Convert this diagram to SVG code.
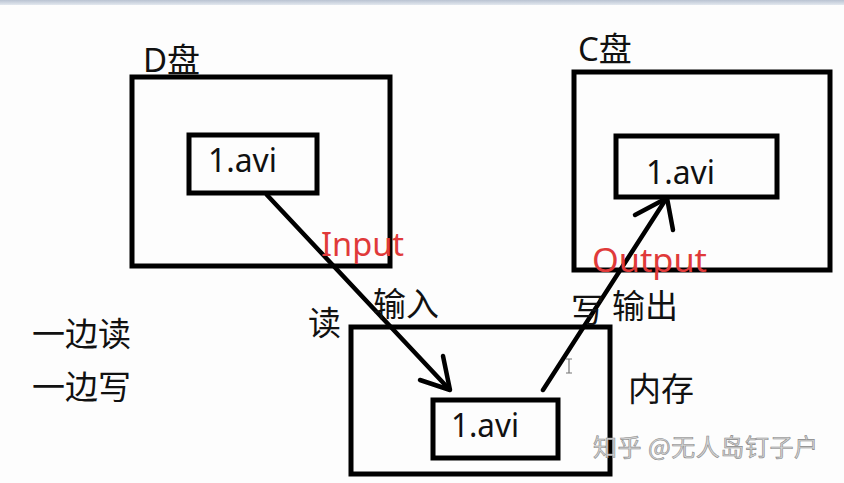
<svg xmlns="http://www.w3.org/2000/svg" width="844" height="483" viewBox="0 0 844 483">
<defs>
<linearGradient id="topbar" x1="0" y1="0" x2="0" y2="1">
<stop offset="0" stop-color="#b9c3d2"/>
<stop offset="1" stop-color="#e3e8ef"/>
</linearGradient>
</defs>
<style>
.box{fill:none;stroke:#000;stroke-width:5}
.conn{fill:none;stroke:#000;stroke-width:4.5;stroke-linecap:round;stroke-linejoin:round}
.lbl{font-family:"Noto Sans","Liberation Sans","Noto Sans CJK SC",sans-serif;font-size:33px;fill:#111}
.cjk{font-family:"Noto Sans CJK SC","Noto Sans",sans-serif;font-size:33px;fill:#111}
.red{font-family:"Noto Sans","Liberation Sans",sans-serif;font-size:32px;fill:#e03a3a}
.wm{font-family:"Noto Sans CJK SC","Noto Sans",sans-serif;font-size:24px;fill:#d4d4d4;stroke:#8a8a8a;stroke-width:0.6}
</style>
<rect x="0" y="0" width="844" height="483" fill="#fdfdfd"/>
<rect x="0" y="0" width="844" height="5" fill="url(#topbar)"/>

<g id="disk-d">
<rect class="box" x="132" y="77" width="258" height="189"/>
<text class="cjk" x="143" y="72"><tspan font-family="Noto Sans, sans-serif">D</tspan>盘</text>
</g>
<g id="file-d">
<rect class="box" x="189" y="135" width="128" height="58"/>
<text class="lbl" x="208" y="172" textLength="69" lengthAdjust="spacingAndGlyphs">1.avi</text>
</g>

<g id="disk-c">
<rect class="box" x="574" y="72" width="256" height="198"/>
<text class="cjk" x="578" y="61"><tspan font-family="Noto Sans, sans-serif">C</tspan>盘</text>
</g>
<g id="file-c">
<rect class="box" x="616" y="136" width="161" height="61"/>
<text class="lbl" x="646" y="184" textLength="69" lengthAdjust="spacingAndGlyphs">1.avi</text>
</g>

<g id="memory">
<rect class="box" x="351" y="327" width="259" height="147"/>
<text class="cjk" x="628" y="401">内存</text>
</g>
<g id="file-mem">
<rect class="box" x="433" y="400" width="125" height="58"/>
<text class="lbl" x="451" y="437" textLength="68" lengthAdjust="spacingAndGlyphs">1.avi</text>
</g>

<g id="connectors">
<path class="conn" d="M267 195 L449 389"/>
<path class="conn" d="M443 356 L450 390 L420 380"/>
<path class="conn" d="M543 390 L666 199"/>
<path class="conn" d="M635 215 L667 198 L673 230"/>
</g>

<g id="labels">
<text class="red" x="321" y="256" textLength="83" lengthAdjust="spacingAndGlyphs">Input</text>
<text class="red" x="592" y="272" textLength="115" lengthAdjust="spacingAndGlyphs">Output</text>
<text class="cjk" x="373" y="316">输入</text>
<text class="cjk" x="308" y="335">读</text>
<text class="cjk" x="571" y="322">写</text>
<text class="cjk" x="612" y="318">输出</text>
<text class="cjk" x="32" y="346">一边读</text>
<text class="cjk" x="32" y="399">一边写</text>
</g>

<path d="M566 359 H572 M569 359 V373 M566 373 H572" stroke="#777" stroke-width="1.2" fill="none"/>

<text class="wm" x="593" y="456" textLength="225" lengthAdjust="spacing">知乎 @无人岛钉子户</text>
</svg>
